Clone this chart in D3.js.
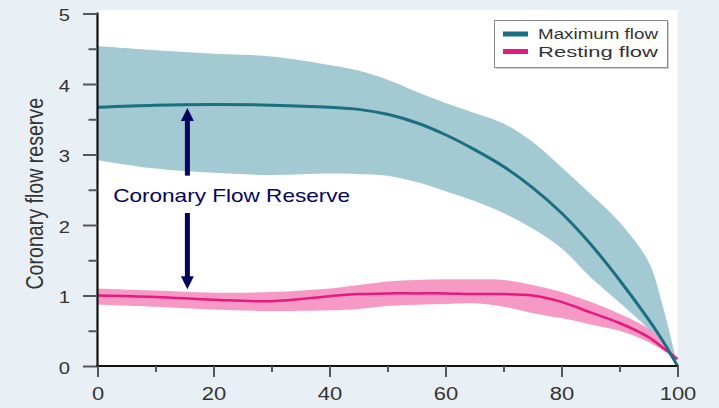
<!DOCTYPE html>
<html>
<head>
<meta charset="utf-8">
<script src="https://cdn.jsdelivr.net/npm/d3@7"></script>
<style>
  html, body { margin: 0; padding: 0; background: #e9f0f5; }
  svg { display: block; }
  text { font-family: "Liberation Sans", Arial, sans-serif; }
</style>
</head>
<body>
<svg id="chart" width="719" height="408"></svg>
<script>
// ---- data ----
const xPct = [0, 10, 20, 30, 40, 45, 50, 55, 60, 65, 70, 75, 80, 85, 90, 95, 97.5, 100];
const maxMedian = [3.67, 3.70, 3.71, 3.70, 3.67, 3.64, 3.57, 3.45, 3.28, 3.07, 2.83, 2.53, 2.17, 1.73, 1.22, 0.66, 0.35, 0];
const maxUpper  = [4.54, 4.48, 4.43, 4.39, 4.27, 4.19, 4.06, 3.89, 3.73, 3.59, 3.44, 3.18, 2.82, 2.44, 2.04, 1.48, 0.84, 0];
const maxLower  = [2.92, 2.80, 2.74, 2.71, 2.73, 2.72, 2.70, 2.61, 2.48, 2.34, 2.17, 1.95, 1.67, 1.26, 0.90, 0.52, 0.27, 0];
const restMedian = [1.00, 0.98, 0.94, 0.92, 0.99, 1.02, 1.03, 1.03, 1.03, 1.02, 1.02, 1.00, 0.91, 0.76, 0.61, 0.41, 0.26, 0.10];
const restUpper  = [1.10, 1.07, 1.04, 1.05, 1.10, 1.15, 1.20, 1.22, 1.23, 1.23, 1.22, 1.15, 1.05, 0.91, 0.74, 0.53, 0.36, 0.10];
const restLower  = [0.87, 0.84, 0.80, 0.78, 0.79, 0.81, 0.85, 0.87, 0.88, 0.89, 0.84, 0.75, 0.68, 0.59, 0.50, 0.34, 0.22, 0.10];
const yTicks = [0, 1, 2, 3, 4, 5];
const yMinorTicks = [0.5, 1.5, 2.5, 3.5, 4.5];
const xTicks = [0, 20, 40, 60, 80, 100];
const xMinorTicks = [10, 30, 50, 70, 90];
const legendLabels = ["Maximum flow", "Resting flow"];
const yTitle = "Coronary flow reserve";
const annotationText = "Coronary Flow Reserve";
const annotation = { x: 15.5, top: 3.66, bottom: 1.09, gapTop: 2.70, gapBottom: 2.17, textX: 2.7, textY: 2.33 };

// ---- styles ----
const C = {
  bg: "#e9f0f5", plot: "#ffffff",
  maxBand: "#a3c9d3", maxLine: "#1a6f80",
  restBand: "#f799c5", restLine: "#e5197f",
  arrow: "#05055e", text: "#333333"
};
const STRETCH = 1.22; // the reference text is widened horizontally

const svg = d3.select("#chart");
const x = d3.scaleLinear().domain([0, 100]).range([97.5, 677.5]);
const y = d3.scaleLinear().domain([0, 5]).range([366, 13.5]);

svg.append("rect").attr("width", 719).attr("height", 408).attr("fill", C.bg);
svg.append("rect").attr("x", x(0)).attr("y", 10).attr("width", x(100) - x(0)).attr("height", y(0) - 10).attr("fill", C.plot);

const curve = d3.curveCatmullRom.alpha(0.5);
const idx = d3.range(xPct.length);
const area = (lo, hi) => d3.area().curve(curve).x(i => x(xPct[i])).y0(i => y(lo[i])).y1(i => y(hi[i]));
const line = (v) => d3.line().curve(curve).x(i => x(xPct[i])).y(i => y(v[i]));

svg.append("path").attr("d", area(maxLower, maxUpper)(idx)).attr("fill", C.maxBand);
svg.append("path").attr("d", area(restLower, restUpper)(idx)).attr("fill", C.restBand);
svg.append("path").attr("d", line(restMedian)(idx)).attr("fill", "none").attr("stroke", C.restLine).attr("stroke-width", 2.5);
svg.append("path").attr("d", line(maxMedian)(idx)).attr("fill", "none").attr("stroke", C.maxLine).attr("stroke-width", 3);

function stretchText(sel) {
  sel.each(function () {
    const w = this.getComputedTextLength();
    d3.select(this).attr("textLength", w * STRETCH).attr("lengthAdjust", "spacingAndGlyphs");
  });
}

// ---- axes ----
const yAxis = svg.append("g").attr("transform", `translate(${x(0)},0)`);
yAxis.call(d3.axisLeft(y).tickValues(yTicks).tickSize(14.5).tickPadding(13).tickFormat(d3.format("d")));
const yMinor = svg.append("g").attr("transform", `translate(${x(0)},0)`);
yMinor.call(d3.axisLeft(y).tickValues(yMinorTicks).tickSize(9).tickFormat(""));
yMinor.select(".domain").remove();

const xAxis = svg.append("g").attr("transform", `translate(0,${y(0)})`);
xAxis.call(d3.axisBottom(x).tickValues(xTicks).tickSize(11).tickPadding(10).tickFormat(d3.format("d")));
const xMinor = svg.append("g").attr("transform", `translate(0,${y(0)})`);
xMinor.call(d3.axisBottom(x).tickValues(xMinorTicks).tickSize(6).tickFormat(""));
xMinor.select(".domain").remove();

[yAxis, xAxis].forEach(g => {
  g.select(".domain").attr("stroke", "#111").attr("stroke-width", 2.2);
  g.selectAll(".tick text").attr("fill", C.text).attr("font-family", "Liberation Sans, Arial, sans-serif");
});
yAxis.selectAll(".tick text").attr("font-size", 16.5).attr("dy", "0.45em");
xAxis.selectAll(".tick text").attr("font-size", 18);
stretchText(yAxis.selectAll(".tick text"));
stretchText(xAxis.selectAll(".tick text"));
[yAxis, yMinor, xAxis, xMinor].forEach(g => g.selectAll(".tick line").attr("stroke", "#555").attr("stroke-width", 2));
yAxis.select(".domain").attr("d", `M0,${y(5) - 1}V${y(0) + 1}`);
xAxis.select(".domain").attr("d", `M${x(0) - 1},0H${x(100) + 1}`);

svg.append("text")
  .attr("transform", `translate(42.5,${(y(0) + y(5)) / 2 + 4}) scale(1.25,1) rotate(-90)`)
  .attr("text-anchor", "middle").attr("font-size", 19.6).attr("fill", C.text)
  .text(yTitle);

// ---- annotation ----
const ax = x(annotation.x);
const shaftW = 5, headW = 13, headH = 13;
const ann = svg.append("g").attr("fill", C.arrow);
ann.append("rect").attr("x", ax - shaftW / 2).attr("y", y(annotation.top) + headH - 1).attr("width", shaftW).attr("height", y(annotation.gapTop) - y(annotation.top) - headH + 1);
ann.append("path").attr("d", `M${ax},${y(annotation.top)}L${ax + headW / 2},${y(annotation.top) + headH}L${ax - headW / 2},${y(annotation.top) + headH}Z`);
ann.append("rect").attr("x", ax - shaftW / 2).attr("y", y(annotation.gapBottom)).attr("width", shaftW).attr("height", y(annotation.bottom) - headH - y(annotation.gapBottom) + 1);
ann.append("path").attr("d", `M${ax},${y(annotation.bottom)}L${ax + headW / 2},${y(annotation.bottom) - headH}L${ax - headW / 2},${y(annotation.bottom) - headH}Z`);
svg.append("text").attr("x", x(annotation.textX)).attr("y", y(annotation.textY))
  .attr("font-size", 18.6).attr("fill", C.arrow)
  .attr("textLength", 237).attr("lengthAdjust", "spacingAndGlyphs")
  .text(annotationText);

// ---- legend ----
const lg = svg.append("g").attr("transform", "translate(494.5,20.5)");
lg.append("rect").attr("x", 1.5).attr("y", 1.5).attr("width", 173).attr("height", 47).attr("fill", "#c9cfd3");
lg.append("rect").attr("width", 173).attr("height", 47).attr("fill", "#fff").attr("stroke", "#8a8a8a").attr("stroke-width", 1);
const lgColors = [C.maxLine, C.restLine];
legendLabels.forEach((t, i) => {
  const cy = 13.5 + i * 17.5;
  lg.append("line").attr("x1", 8.5).attr("x2", 33.5).attr("y1", cy).attr("y2", cy).attr("stroke", lgColors[i]).attr("stroke-width", 5);
  lg.append("text").attr("x", 43.5).attr("y", cy + 5).attr("font-size", 14).attr("fill", C.text)
    .attr("textLength", 120).attr("lengthAdjust", "spacingAndGlyphs").text(t);
});
</script>
</body>
</html>
